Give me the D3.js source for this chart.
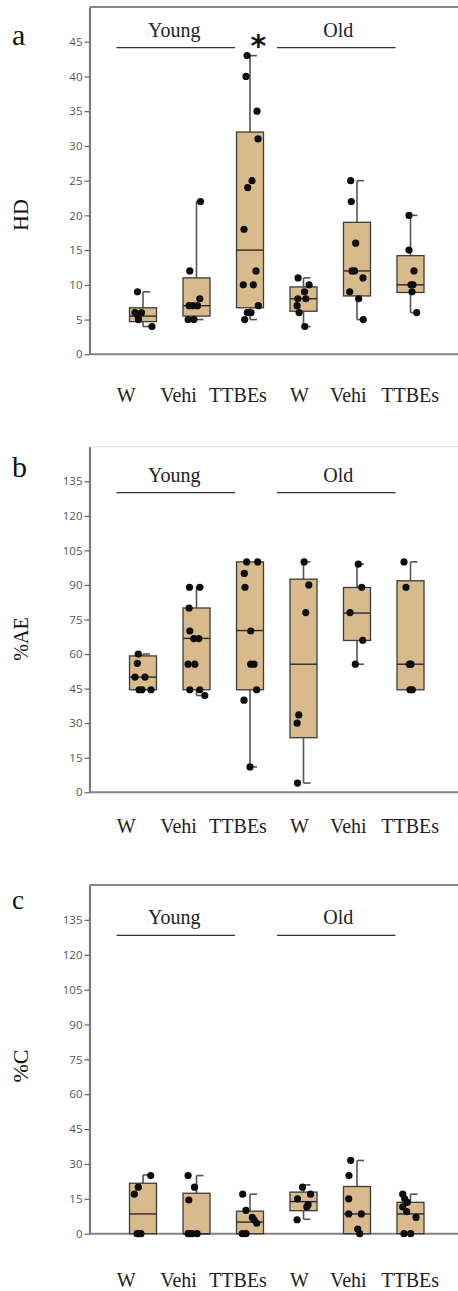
<!DOCTYPE html>
<html>
<head>
<meta charset="utf-8">
<script src="https://cdn.jsdelivr.net/npm/d3@7"></script>
<style>
  html, body { margin: 0; padding: 0; background: #fff; }
  svg { display: block; }
</style>
</head>
<body>
<script>
// ---------- DATA ----------
const groups = ["yW", "yV", "yT", "oW", "oV", "oT"];
const catLabels = ["W", "Vehi", "TTBEs", "W", "Vehi", "TTBEs"];
const ageLabels = ["Young", "Old"];

const hdTicks = [0, 5, 10, 15, 20, 25, 30, 35, 40, 45];
const pctTicks = [0, 15, 30, 45, 60, 75, 90, 105, 120, 135];

// Panel a: HD
const hdQ1 = [4.7, 5.5, 6.7, 6.2, 8.4, 8.9];
const hdMedian = [5.5, 7, 15, 8, 12, 10];
const hdQ3 = [6.7, 11, 32, 9.7, 19, 14.2];
const hdMin = [4, 5, 5, 4, 5, 6];
const hdMax = [9, 22, 43, 11, 25, 20];
const hdPoints = [
  [9, 6, 6, 5.5, 5, 4],
  [22, 12, 8, 7, 7, 7, 5, 5],
  [43, 40, 35, 31, 25, 24, 18, 12, 10, 10, 7, 6, 6, 5],
  [11, 10, 9, 8, 8, 7, 6, 4],
  [25, 22, 16, 12, 12, 11, 9, 8, 5],
  [20, 15, 12, 10, 10, 9, 6]
];
const hdJitter = [
  [-5.5, -8, -1.5, -5, -4.5, 9],
  [4, -6.7, 3.3, -7.4, -3.7, 1, -8.4, -2.7],
  [-3, -4, 7, 8, 2, -2.3, -6, 6, -6.7, 3.3, 8.3, -2.7, 1, -5.3],
  [-5.4, 5.6, 1, -5.7, 2.3, -6.4, -4.4, 1.3],
  [-6.3, -5.7, -1.3, -5, -2.5, 6, -7.3, 1.7, 6.3],
  [-1.5, -1.5, 3.5, 0.5, 2.5, 1.5, 6.2]
];

// Panel b: %AE
const aeQ1 = [44.5, 44.5, 44.5, 23.7, 65.9, 44.5];
const aeMedian = [50, 66.8, 70.2, 55.6, 77.8, 55.6];
const aeQ3 = [59.2, 80, 100, 92.5, 88.9, 91.8];
const aeMin = [44.5, 42, 11, 4, 55.6, 44.5];
const aeMax = [60, 89, 100, 100, 99, 100];
const aePoints = [
  [60, 56, 50, 50, 44.5, 44.5, 44.5],
  [89, 89, 80, 70, 66.7, 66.7, 55.6, 55.6, 44.5, 44.5, 42],
  [100, 100, 95, 89, 70, 55.6, 55.6, 44.5, 40, 11],
  [100, 90, 78, 33.6, 30, 4],
  [99, 89, 78, 66, 55.6],
  [100, 89, 55.6, 55.6, 44.5, 44.5]
];
const aeJitter = [
  [-4.7, -5.7, -8, 2, -4, -1, 8],
  [-7, 3.3, -7.4, -6.7, -2.7, 2.3, -8.4, -1.7, -6.7, 3.3, 8.3],
  [-3.3, 7.7, -5.7, -5, 0.7, 0.7, 4, 6.7, -6, 0],
  [0.6, 5.3, 2.3, -4.7, -6.4, -6],
  [1.3, 4.7, -7, 5.7, -1.7],
  [-6.5, -4.5, -1.2, 0.5, -0.5, 1.8]
];

// Panel c: %C
const cQ1 = [0, 0, 0, 9.9, 0, 0];
const cMedian = [8.5, 0, 5, 13.8, 8.5, 8.5];
const cQ3 = [21.7, 17.4, 9.7, 17.9, 20.3, 13.5];
const cMin = [0, 0, 0, 6.2, 0, 0];
const cMax = [25.3, 25, 17, 21, 31.5, 17];
const cPoints = [
  [25, 20, 17, 0, 0, 0],
  [25, 20, 14.5, 0, 0, 0, 0],
  [17, 10, 7, 6, 4.5, 0, 0],
  [20, 17, 15, 12.5, 11.5, 6],
  [31.5, 25, 15, 8.5, 8.5, 2, 0],
  [17, 15, 13.5, 11.5, 9.5, 7, 0, 0]
];
const cJitter = [
  [7.7, -4.7, -8.7, -6, -2, -4],
  [-8.4, -2, -7.7, -8.4, -4, 0.6, -6],
  [-7.3, -4, 2.3, 4, 6.7, -7.7, -4],
  [-1, 7, -6, 4.6, 3.3, -6.4],
  [-6.3, -8, -8.3, -8.3, 4.3, 0.7, 2.7],
  [-7.8, -5.8, -3.2, -7.8, -3.8, 5.5, -6.5, 0.2]
];

// ---------- LAYOUT ----------
const W = 458, H = 1291;
const axisX = 89.5;
const boxW = 27;
const labelShift = [-16.7, -18, -12, -4, -8.7, -0.3];
const boxFill = "#d9ba8c";
const serif = "'Liberation Serif', 'Times New Roman', serif";
const sans = "'Open Sans', 'Noto Sans', sans-serif";

const svg = d3.select("body").append("svg").attr("width", W).attr("height", H);

const x = d3.scalePoint().domain(groups).range([143, 410.5]);

const panels = [
  { letter: "a", letterY: 45, letterSize: 30, ylabel: "HD", ylabelY: 215, ylabelSize: 22,
    domain: [0, 50], top: 7, bottom: 354.3, ticks: hdTicks, topColor: "#858585", topWidth: 2,
    ageY: 37, lineY: 47.7, catY: 402,
    q1: hdQ1, med: hdMedian, q3: hdQ3, lo: hdMin, hi: hdMax, pts: hdPoints, jit: hdJitter, star: true },
  { letter: "b", letterY: 477, letterSize: 30, ylabel: "%AE", ylabelY: 639, ylabelSize: 20,
    domain: [0, 150], top: 446.7, bottom: 792.3, ticks: pctTicks, topColor: "#dcdcdc", topWidth: 1,
    ageY: 481.7, lineY: 492.7, catY: 833,
    q1: aeQ1, med: aeMedian, q3: aeQ3, lo: aeMin, hi: aeMax, pts: aePoints, jit: aeJitter, star: false },
  { letter: "c", letterY: 909, letterSize: 27, ylabel: "%C", ylabelY: 1066, ylabelSize: 22,
    domain: [0, 150], top: 885, bottom: 1233.7, ticks: pctTicks, topColor: "#858585", topWidth: 2,
    ageY: 924, lineY: 935.3, catY: 1286.5,
    q1: cQ1, med: cMedian, q3: cQ3, lo: cMin, hi: cMax, pts: cPoints, jit: cJitter, star: false }
];

panels.forEach(p => {
  const g = svg.append("g");
  const y = d3.scaleLinear().domain(p.domain).range([p.bottom, p.top]);

  // top frame line
  g.append("line").attr("x1", axisX).attr("x2", W).attr("y1", p.top).attr("y2", p.top)
    .attr("stroke", p.topColor).attr("stroke-width", p.topWidth);
  // bottom axis line
  g.append("line").attr("x1", axisX).attr("x2", W).attr("y1", p.bottom).attr("y2", p.bottom)
    .attr("stroke", "#858585").attr("stroke-width", 2);

  // left axis
  const ax = g.append("g").attr("transform", `translate(${axisX},0)`)
    .call(d3.axisLeft(y).tickValues(p.ticks).tickSize(5).tickSizeOuter(0).tickPadding(2));
  ax.select(".domain").attr("stroke", "#7a7a7a").attr("stroke-width", 2.2);
  ax.selectAll(".tick line").attr("stroke", "#666").attr("stroke-width", 1.2);
  ax.selectAll(".tick text").attr("fill", "#555").style("font-family", sans).style("font-size", "11.5px");

  // panel letter
  g.append("text").attr("x", 12).attr("y", p.letterY).text(p.letter)
    .style("font-family", serif).style("font-size", p.letterSize + "px").attr("fill", "#111");

  // y label
  g.append("text").attr("transform", `translate(20.5,${p.ylabelY}) rotate(-90)`)
    .attr("text-anchor", "middle").attr("dominant-baseline", "central")
    .text(p.ylabel).style("font-family", serif).style("font-size", p.ylabelSize + "px").attr("fill", "#111");

  // age group labels and lines
  const ageSpans = [[x("yW"), x("yT")], [x("oW"), x("oT")]];
  ageSpans.forEach((s, i) => {
    const x1 = s[0] - 26.5, x2 = s[1] - 15;
    g.append("line").attr("x1", x1).attr("x2", x2).attr("y1", p.lineY).attr("y2", p.lineY)
      .attr("stroke", "#333").attr("stroke-width", 1.2);
    g.append("text").attr("x", (x1 + x2) / 2 + (i === 0 ? -1.5 : 2)).attr("y", p.ageY)
      .attr("text-anchor", "middle").text(ageLabels[i])
      .style("font-family", serif).style("font-size", "20px").attr("fill", "#222");
  });

  if (p.star) {
    g.append("text").attr("x", (x("yT") + x("oW")) / 2 - 18.5).attr("y", 56)
      .attr("text-anchor", "middle").text("*")
      .style("font-family", "'DejaVu Sans', sans-serif").style("font-weight", "bold")
      .style("font-size", "30px").attr("fill", "#111");
  }

  // category labels
  groups.forEach((k, i) => {
    g.append("text").attr("x", x(k) + labelShift[i]).attr("y", p.catY)
      .attr("text-anchor", "middle").text(catLabels[i])
      .style("font-family", serif).style("font-size", "20px").attr("fill", "#222");
  });

  // boxes
  groups.forEach((k, i) => {
    const cx = x(k);
    const bg = g.append("g");
    // whiskers
    if (p.hi[i] > p.q3[i]) {
      bg.append("line").attr("x1", cx).attr("x2", cx).attr("y1", y(p.q3[i])).attr("y2", y(p.hi[i]))
        .attr("stroke", "#555").attr("stroke-width", 1.6);
      bg.append("line").attr("x1", cx).attr("x2", cx + 7).attr("y1", y(p.hi[i])).attr("y2", y(p.hi[i]))
        .attr("stroke", "#555").attr("stroke-width", 1.6);
    }
    if (p.lo[i] < p.q1[i]) {
      bg.append("line").attr("x1", cx).attr("x2", cx).attr("y1", y(p.q1[i])).attr("y2", y(p.lo[i]))
        .attr("stroke", "#555").attr("stroke-width", 1.6);
      bg.append("line").attr("x1", cx).attr("x2", cx + 7).attr("y1", y(p.lo[i])).attr("y2", y(p.lo[i]))
        .attr("stroke", "#555").attr("stroke-width", 1.6);
    }
    // box
    bg.append("rect").attr("x", cx - boxW / 2).attr("width", boxW)
      .attr("y", y(p.q3[i])).attr("height", Math.max(0.5, y(p.q1[i]) - y(p.q3[i])))
      .attr("fill", boxFill).attr("stroke", "#3c3c3c").attr("stroke-width", 1.3);
    // median
    bg.append("line").attr("x1", cx - boxW / 2).attr("x2", cx + boxW / 2)
      .attr("y1", y(p.med[i])).attr("y2", y(p.med[i]))
      .attr("stroke", "#2a2a2a").attr("stroke-width", 1.4);
    // points
    bg.selectAll("circle").data(p.pts[i]).join("circle")
      .attr("cx", (d, j) => cx + p.jit[i][j])
      .attr("cy", d => y(d))
      .attr("r", 3.6)
      .attr("fill", "#0d0d0d");
  });
});
</script>
</body>
</html>
